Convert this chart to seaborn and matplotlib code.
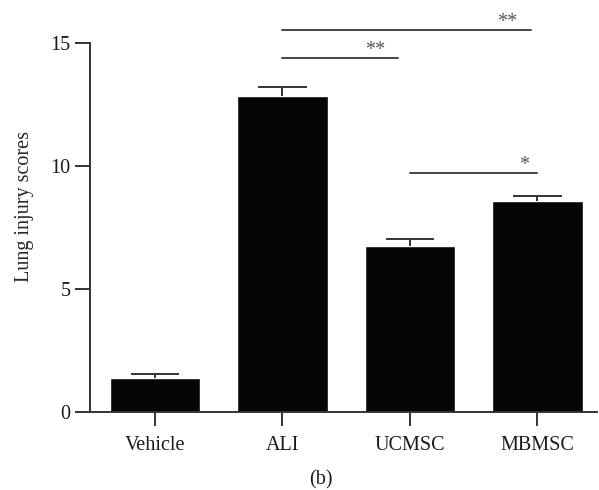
import matplotlib
matplotlib.use("Agg")
import matplotlib.pyplot as plt
import seaborn as sns
import pandas as pd

groups = ["Vehicle", "ALI", "UCMSC", "MBMSC"]
means = [1.37, 12.86, 6.75, 8.58]
sems = [0.17, 0.36, 0.29, 0.21]
yticks = [0, 5, 10, 15]

# significance brackets: (start group, end group, height, label)
sig_pairs = [("ALI", "MBMSC", 15.54, "**"),
             ("ALI", "UCMSC", 14.39, "**"),
             ("UCMSC", "MBMSC", 9.72, "*")]

sns.set_style("white")
plt.rcParams['font.family'] = ['Liberation Serif', 'DejaVu Serif']
FS = 14.5

fig = plt.figure(figsize=(5.99, 4.90), dpi=100)
ax = fig.add_axes([0.150, 0.159, 0.847, 0.841])

df = pd.DataFrame({"group": groups, "score": means})
sns.barplot(data=df, x="group", y="score", color="#050505", saturation=1,
            width=0.71, ax=ax, errorbar=None)

xpos = list(range(len(groups)))
tops = [m + s for m, s in zip(means, sems)]
ax.vlines(xpos, means, tops, color="#333333", lw=1.4)
ax.hlines(tops, [x - 0.19 for x in xpos], [x + 0.19 for x in xpos],
          color="#333333", lw=1.4)

ax.set_xlim(-0.51, 3.47)
ax.set_ylim(0, 16.75)
ax.set_yticks(yticks)
ax.set_yticklabels([str(t) for t in yticks], fontsize=FS)
ax.set_xticks(xpos)
ax.set_xticklabels(groups, fontsize=FS)
ax.set_xlabel("")
ax.set_ylabel("Lung injury scores", fontsize=FS, labelpad=12)

for s in ["top", "right"]:
    ax.spines[s].set_visible(False)
for s in ["left", "bottom"]:
    ax.spines[s].set_color("#333333")
    ax.spines[s].set_linewidth(1.4)
ax.spines["left"].set_bounds(0, 15)
ax.tick_params(axis="both", direction="out", length=11, width=1.4,
               color="#333333", labelcolor="#1a1a1a", bottom=True, left=True)
ax.tick_params(axis="x", length=10, pad=7)
ax.tick_params(axis="y", pad=3)

end_off = [0.05, 0.09, 0.0]
star_off = [0.24, 0.27, 0.10]
for (a, b, h, lab), eo, so in zip(sig_pairs, end_off, star_off):
    xa = groups.index(a)
    xb = groups.index(b)
    ax.plot([xa, xb - eo], [h, h], color="#444444", lw=1.4, clip_on=False)
    ax.text(xb - so, h - 0.08, lab, ha="center", va="bottom", fontsize=FS,
            color="#555555")

fig.text(0.535, 0.020, "(b)", ha="center", va="center", fontsize=FS,
         color="#1a1a1a")

fig.savefig("out.png", dpi=100)
